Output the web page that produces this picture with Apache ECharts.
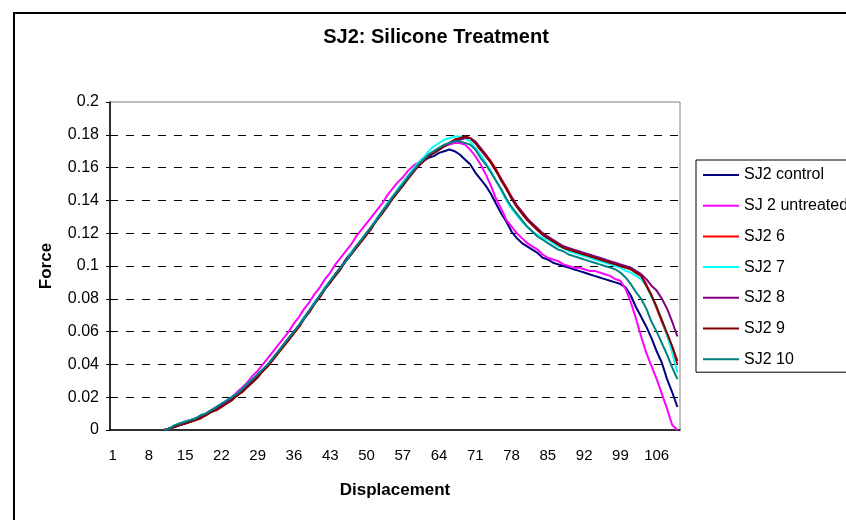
<!DOCTYPE html>
<html>
<head>
<meta charset="utf-8">
<title>SJ2: Silicone Treatment</title>
<script src="https://cdn.jsdelivr.net/npm/echarts@6/dist/echarts.min.js"></script>
<style>
  html, body { margin: 0; padding: 0; background: #fff; }
  #chart { width: 846px; height: 520px; }
</style>
</head>
<body>
<div id="chart"></div>
<script>
  // categories 1..110 (displacement steps)
  var categories = [];
  for (var i = 1; i <= 110; i++) categories.push(String(i));

  var seriesNames = ['SJ2 control', 'SJ 2 untreated', 'SJ2 6', 'SJ2 7', 'SJ2 8', 'SJ2 9', 'SJ2 10'];
  var seriesColors = ['#000080', '#FF00FF', '#FF0000', '#00FFFF', '#800080', '#800000', '#008080'];
  var yTicks = [0, 0.02, 0.04, 0.06, 0.08, 0.1, 0.12, 0.14, 0.16, 0.18, 0.2];

  var sj2Control = [
    null, null, null, null, null, null, null, null, null, null,
    0, 0.001, 0.002, 0.004, 0.005, 0.006, 0.007, 0.008, 0.010, 0.012,
    0.013, 0.015, 0.017, 0.019, 0.021, 0.024, 0.027, 0.030, 0.033, 0.036,
    0.040, 0.044, 0.048, 0.052, 0.056, 0.060, 0.064, 0.069, 0.073, 0.078,
    0.082, 0.087, 0.091, 0.095, 0.099, 0.104, 0.108, 0.112, 0.116, 0.120,
    0.124, 0.129, 0.133, 0.138, 0.142, 0.146, 0.150, 0.155, 0.158, 0.161,
    0.164, 0.166, 0.167, 0.169, 0.170, 0.171, 0.170, 0.168, 0.165, 0.162,
    0.157, 0.153, 0.149, 0.144, 0.138, 0.132, 0.127, 0.121, 0.117, 0.114,
    0.112, 0.110, 0.108, 0.105, 0.104, 0.102, 0.101, 0.100, 0.099, 0.098,
    0.097, 0.096, 0.095, 0.094, 0.093, 0.092, 0.091, 0.090, 0.089, 0.087,
    0.082, 0.075, 0.069, 0.063, 0.056, 0.048, 0.041, 0.031, 0.023, 0.014
  ];
  var sj2Untreated = [
    null, null, null, null, null, null, null, null, null, null,
    0, 0.001, 0.002, 0.004, 0.005, 0.006, 0.007, 0.009, 0.010, 0.012,
    0.014, 0.016, 0.018, 0.020, 0.023, 0.026, 0.029, 0.033, 0.036, 0.040,
    0.044, 0.048, 0.052, 0.056, 0.060, 0.065, 0.069, 0.074, 0.078, 0.083,
    0.087, 0.092, 0.096, 0.101, 0.105, 0.109, 0.113, 0.118, 0.122, 0.126,
    0.130, 0.134, 0.138, 0.143, 0.147, 0.151, 0.154, 0.158, 0.161, 0.163,
    0.166, 0.168, 0.170, 0.172, 0.173, 0.174, 0.175, 0.175, 0.174, 0.171,
    0.167, 0.162, 0.156, 0.149, 0.141, 0.135, 0.128, 0.124, 0.120, 0.117,
    0.114, 0.112, 0.110, 0.107, 0.105, 0.104, 0.103, 0.101, 0.100, 0.099,
    0.099, 0.098, 0.097, 0.097, 0.096, 0.095, 0.094, 0.092, 0.091, 0.086,
    0.078, 0.068, 0.057, 0.047, 0.039, 0.031, 0.022, 0.013, 0.003, 0.000
  ];
  var sj2s6 = [
    null, null, null, null, null, null, null, null, null, null,
    0, 0.001, 0.002, 0.003, 0.004, 0.005, 0.006, 0.008, 0.009, 0.011,
    0.013, 0.015, 0.017, 0.019, 0.021, 0.024, 0.027, 0.030, 0.033, 0.036,
    0.039, 0.043, 0.047, 0.051, 0.055, 0.059, 0.063, 0.068, 0.072, 0.077,
    0.081, 0.086, 0.090, 0.095, 0.099, 0.103, 0.107, 0.111, 0.115, 0.119,
    0.124, 0.128, 0.132, 0.137, 0.141, 0.145, 0.149, 0.154, 0.158, 0.161,
    0.164, 0.167, 0.169, 0.171, 0.173, 0.175, 0.177, 0.178, 0.179, 0.178,
    0.175, 0.171, 0.168, 0.164, 0.159, 0.153, 0.148, 0.142, 0.137, 0.133,
    0.129, 0.125, 0.122, 0.119, 0.117, 0.115, 0.113, 0.112, 0.110, 0.109,
    0.108, 0.107, 0.106, 0.105, 0.104, 0.103, 0.102, 0.101, 0.100, 0.099,
    0.098, 0.096, 0.094, 0.089, 0.082, 0.074, 0.066, 0.058, 0.049, 0.040
  ];
  var sj2s7 = [
    null, null, null, null, null, null, null, null, null, null,
    0, 0.001, 0.003, 0.004, 0.005, 0.006, 0.007, 0.009, 0.010, 0.012,
    0.014, 0.016, 0.018, 0.020, 0.022, 0.025, 0.028, 0.031, 0.034, 0.037,
    0.040, 0.044, 0.048, 0.052, 0.056, 0.060, 0.064, 0.069, 0.073, 0.078,
    0.082, 0.087, 0.091, 0.095, 0.099, 0.103, 0.108, 0.112, 0.116, 0.120,
    0.124, 0.129, 0.133, 0.138, 0.142, 0.147, 0.151, 0.155, 0.159, 0.163,
    0.166, 0.170, 0.173, 0.175, 0.177, 0.178, 0.179, 0.179, 0.178, 0.176,
    0.172, 0.168, 0.163, 0.158, 0.152, 0.146, 0.140, 0.135, 0.131, 0.127,
    0.124, 0.121, 0.119, 0.117, 0.116, 0.114, 0.112, 0.111, 0.109, 0.108,
    0.107, 0.106, 0.105, 0.104, 0.103, 0.102, 0.101, 0.100, 0.099, 0.097,
    0.096, 0.094, 0.092, 0.088, 0.081, 0.075, 0.067, 0.058, 0.047, 0.035
  ];
  var sj2s8 = [
    null, null, null, null, null, null, null, null, null, null,
    0, 0.001, 0.002, 0.003, 0.004, 0.005, 0.006, 0.008, 0.009, 0.011,
    0.013, 0.015, 0.017, 0.019, 0.021, 0.024, 0.027, 0.030, 0.033, 0.036,
    0.040, 0.044, 0.048, 0.052, 0.056, 0.060, 0.064, 0.068, 0.073, 0.077,
    0.082, 0.086, 0.090, 0.095, 0.099, 0.103, 0.107, 0.111, 0.115, 0.120,
    0.124, 0.128, 0.133, 0.137, 0.141, 0.145, 0.149, 0.154, 0.158, 0.161,
    0.164, 0.167, 0.169, 0.171, 0.173, 0.175, 0.176, 0.177, 0.178, 0.178,
    0.176, 0.172, 0.168, 0.163, 0.158, 0.153, 0.147, 0.142, 0.137, 0.133,
    0.129, 0.126, 0.123, 0.120, 0.118, 0.116, 0.114, 0.112, 0.111, 0.110,
    0.109, 0.108, 0.107, 0.106, 0.105, 0.104, 0.103, 0.102, 0.101, 0.100,
    0.099, 0.097, 0.095, 0.092, 0.088, 0.085, 0.080, 0.074, 0.066, 0.057
  ];
  var sj2s9 = [
    null, null, null, null, null, null, null, null, null, null,
    0, 0.001, 0.002, 0.003, 0.004, 0.005, 0.006, 0.007, 0.009, 0.011,
    0.012, 0.014, 0.016, 0.018, 0.021, 0.023, 0.026, 0.029, 0.032, 0.036,
    0.039, 0.043, 0.047, 0.051, 0.055, 0.059, 0.063, 0.068, 0.072, 0.077,
    0.081, 0.086, 0.090, 0.094, 0.098, 0.103, 0.107, 0.111, 0.115, 0.119,
    0.123, 0.128, 0.132, 0.136, 0.141, 0.145, 0.149, 0.153, 0.157, 0.161,
    0.164, 0.167, 0.169, 0.171, 0.173, 0.175, 0.177, 0.178, 0.179, 0.178,
    0.175, 0.171, 0.167, 0.163, 0.158, 0.152, 0.147, 0.141, 0.136, 0.132,
    0.128, 0.125, 0.122, 0.119, 0.117, 0.115, 0.113, 0.111, 0.110, 0.109,
    0.108, 0.107, 0.106, 0.105, 0.104, 0.103, 0.102, 0.101, 0.100, 0.099,
    0.098, 0.096, 0.094, 0.088, 0.082, 0.075, 0.067, 0.059, 0.051, 0.042
  ];
  var sj2s10 = [
    null, null, null, null, null, null, null, null, null, null,
    0, 0.001, 0.003, 0.004, 0.005, 0.006, 0.007, 0.009, 0.010, 0.012,
    0.014, 0.016, 0.018, 0.020, 0.022, 0.025, 0.028, 0.031, 0.034, 0.037,
    0.040, 0.044, 0.048, 0.052, 0.056, 0.060, 0.064, 0.068, 0.073, 0.077,
    0.082, 0.086, 0.091, 0.095, 0.099, 0.103, 0.107, 0.112, 0.116, 0.120,
    0.124, 0.128, 0.133, 0.137, 0.142, 0.146, 0.150, 0.154, 0.158, 0.162,
    0.165, 0.168, 0.170, 0.172, 0.174, 0.175, 0.176, 0.176, 0.175, 0.174,
    0.171, 0.166, 0.162, 0.157, 0.152, 0.147, 0.141, 0.136, 0.132, 0.128,
    0.124, 0.121, 0.118, 0.116, 0.114, 0.112, 0.110, 0.109, 0.107, 0.106,
    0.105, 0.104, 0.103, 0.102, 0.101, 0.100, 0.099, 0.098, 0.096, 0.093,
    0.089, 0.084, 0.080, 0.074, 0.066, 0.060, 0.053, 0.046, 0.038, 0.031
  ];

  var seriesData = [sj2Control, sj2Untreated, sj2s6, sj2s7, sj2s8, sj2s9, sj2s10];
  var font = '"Liberation Sans", Arial, sans-serif';

  var myChart = echarts.init(document.getElementById('chart'));

  var series = [];
  for (var s = 0; s < seriesNames.length; s++) {
    series.push({
      name: seriesNames[s],
      type: 'line',
      data: seriesData[s],
      symbol: 'none',
      color: seriesColors[s],
      lineStyle: { width: 2, color: seriesColors[s] },
      emphasis: { disabled: true }
    });
  }

  var option = {
    animation: false,
    backgroundColor: '#fff',
    graphic: [
      {
        type: 'rect',
        silent: true,
        z: -10,
        shape: { x: 14, y: 13, width: 900, height: 600 },
        style: { fill: 'none', stroke: '#000', lineWidth: 2 }
      },
      {
        type: 'text',
        silent: true,
        x: 436,
        y: 37,
        style: {
          text: 'SJ2: Silicone Treatment',
          font: 'bold 20px ' + font,
          fill: '#000',
          align: 'center',
          verticalAlign: 'middle',
          textAlign: 'center',
          textVerticalAlign: 'middle'
        }
      }
    ],
    grid: {
      left: 110,
      top: 102,
      right: 166,
      bottom: 90,
      show: true,
      borderColor: '#808080',
      borderWidth: 1
    },
    legend: {
      orient: 'vertical',
      left: 696,
      top: 160,
      padding: [7, 20, 5, 6],
      itemWidth: 36,
      itemHeight: 14,
      itemGap: 14.7,
      borderColor: '#000',
      borderWidth: 1,
      selectedMode: false,
      itemStyle: { opacity: 0 },
      lineStyle: { width: 2 },
      textStyle: { fontSize: 16, color: '#000', fontFamily: font },
      data: seriesNames
    },
    xAxis: {
      type: 'category',
      data: categories,
      boundaryGap: true,
      name: 'Displacement',
      nameLocation: 'middle',
      nameGap: 52,
      nameTextStyle: { fontSize: 17, fontWeight: 'bold', color: '#000', fontFamily: font },
      axisLine: { lineStyle: { color: '#000', width: 1.5 } },
      axisTick: { interval: 0, length: 4, lineStyle: { color: '#000' } },
      axisLabel: { interval: 6, margin: 18, fontSize: 15, color: '#000', fontFamily: font },
      splitLine: { show: false }
    },
    yAxis: {
      type: 'value',
      min: yTicks[0],
      max: yTicks[yTicks.length - 1],
      interval: 0.02,
      name: 'Force',
      nameLocation: 'middle',
      nameGap: 55,
      nameRotate: 90,
      nameTextStyle: { fontSize: 17, fontWeight: 'bold', color: '#000', fontFamily: font },
      axisLine: { show: true, lineStyle: { color: '#000', width: 1.5 } },
      axisTick: { show: true, length: 4, lineStyle: { color: '#000' } },
      axisLabel: {
        margin: 11,
        fontSize: 16,
        color: '#000',
        fontFamily: font,
        formatter: function (v) { return String(+v.toFixed(2)); }
      },
      splitLine: {
        show: true,
        showMinLine: false,
        showMaxLine: false,
        lineStyle: { color: '#000', type: [8, 8], width: 1 }
      }
    },
    series: series
  };

  myChart.setOption(option);
</script>
</body>
</html>
